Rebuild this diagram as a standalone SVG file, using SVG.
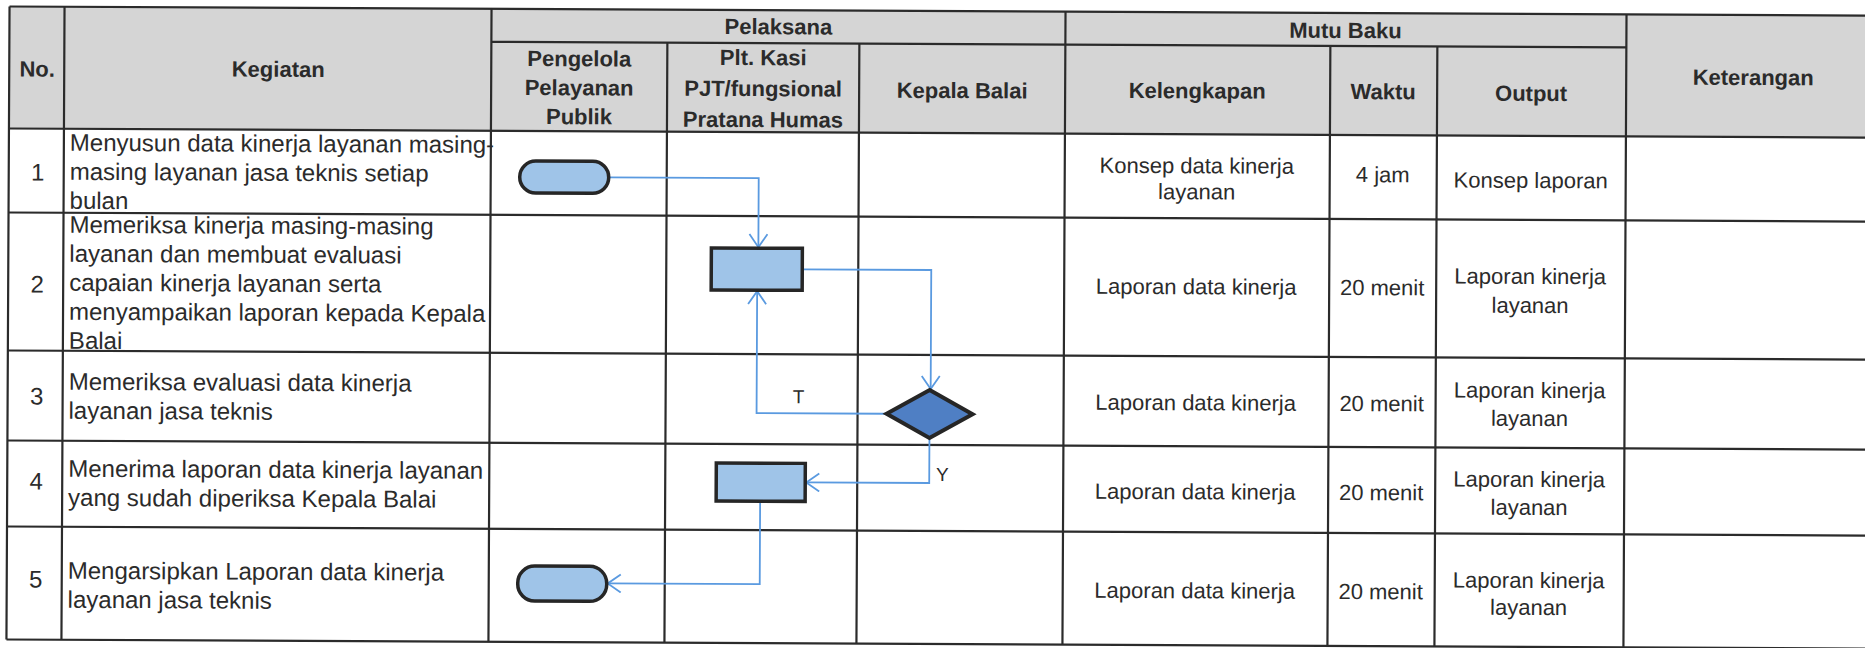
<svg xmlns="http://www.w3.org/2000/svg" width="1865" height="648" viewBox="0 0 1865 648">
<style>
.grid { stroke: #2b2b2b; stroke-width: 2.2; fill: none; }
.hdr { fill: #d5d5d5; }
.h { font-family: "Liberation Sans", Arial, sans-serif; font-weight: bold; font-size: 22px; fill: #2b2b2b; text-anchor: middle; }
.b { font-family: "Liberation Sans", Arial, sans-serif; font-size: 24px; fill: #2b2b2b; }
.n { font-family: "Liberation Sans", Arial, sans-serif; font-size: 24px; fill: #2b2b2b; text-anchor: middle; }
.m { font-family: "Liberation Sans", Arial, sans-serif; font-size: 22px; fill: #2b2b2b; text-anchor: middle; }
.lbl { font-family: "Liberation Sans", Arial, sans-serif; font-size: 19px; fill: #2b2b2b; text-anchor: middle; }
.shape { fill: #9fc4e8; stroke: #262626; stroke-width: 3.5; }
.dec { fill: #4f7fc4; stroke: #262626; stroke-width: 4; }
.conn { fill: none; stroke: #5a9ae0; stroke-width: 1.8; marker-end: url(#arr); }
</style>
<defs>
<marker id="arr" markerUnits="userSpaceOnUse" viewBox="0 0 15 20" refX="14" refY="10" markerWidth="15" markerHeight="20" orient="auto">
<path d="M1,1 L14,10 L1,19" fill="none" stroke="#5a9ae0" stroke-width="1.8"/>
</marker>
</defs>
<rect width="1865" height="648" fill="#ffffff"/>
<g transform="rotate(0.28 932 324)">
<g id="table">
<rect class="hdr" x="8" y="11" width="1880" height="122"/>
<path class="grid" d="M8,11 H1885 M490,44 H1625 M8,133 H1885 M8,217 H1885 M8,355 H1885 M8,445 H1885 M8,531 H1885 M8,644 H1885"/>
<path class="grid" d="M8,11 V644 M63,11 V644 M490,11 V644 M666,44 V644 M858,44 V644 M1064,11 V644 M1329,44 V644 M1436,44 V644 M1625,11 V644"/>
<text class="h" x="36" y="81">No.</text>
<text class="h" x="277" y="80">Kegiatan</text>
<text class="h" x="777" y="35">Pelaksana</text>
<text class="h" x="1344" y="36">Mutu Baku</text>
<text class="h" x="578" y="68">Pengelola</text>
<text class="h" x="578" y="97">Pelayanan</text>
<text class="h" x="578" y="126">Publik</text>
<text class="h" x="762" y="66">Plt. Kasi</text>
<text class="h" x="762" y="97">PJT/fungsional</text>
<text class="h" x="762" y="128">Pratana Humas</text>
<text class="h" x="961" y="98">Kepala Balai</text>
<text class="h" x="1196" y="97">Kelengkapan</text>
<text class="h" x="1382" y="97">Waktu</text>
<text class="h" x="1530" y="98">Output</text>
<text class="h" x="1752" y="81">Keterangan</text>

<text class="n" x="37" y="185">1</text>
<text class="b" x="69" y="155">Menyusun data kinerja layanan masing-</text>
<text class="b" x="69" y="184">masing layanan jasa teknis setiap</text>
<text class="b" x="69" y="213">bulan</text>

<text class="n" x="37" y="297">2</text>
<text class="b" x="69" y="237">Memeriksa kinerja masing-masing</text>
<text class="b" x="69" y="266">layanan dan membuat evaluasi</text>
<text class="b" x="69" y="295">capaian kinerja layanan serta</text>
<text class="b" x="69" y="324">menyampaikan laporan kepada Kepala</text>
<text class="b" x="69" y="353">Balai</text>

<text class="n" x="37" y="409">3</text>
<text class="b" x="69" y="394">Memeriksa evaluasi data kinerja</text>
<text class="b" x="69" y="423">layanan jasa teknis</text>

<text class="n" x="37" y="494">4</text>
<text class="b" x="69" y="481">Menerima laporan data kinerja layanan</text>
<text class="b" x="69" y="510">yang sudah diperiksa Kepala Balai</text>

<text class="n" x="37" y="592">5</text>
<text class="b" x="69" y="583">Mengarsipkan Laporan data kinerja</text>
<text class="b" x="69" y="612">layanan jasa teknis</text>

<text class="m" x="1196" y="172">Konsep data kinerja</text>
<text class="m" x="1196" y="198">layanan</text>
<text class="m" x="1382" y="180">4 jam</text>
<text class="m" x="1530" y="185">Konsep laporan</text>

<text class="m" x="1196" y="293">Laporan data kinerja</text>
<text class="m" x="1382" y="293">20 menit</text>
<text class="m" x="1530" y="281">Laporan kinerja</text>
<text class="m" x="1530" y="310">layanan</text>

<text class="m" x="1196" y="409">Laporan data kinerja</text>
<text class="m" x="1382" y="409">20 menit</text>
<text class="m" x="1530" y="395">Laporan kinerja</text>
<text class="m" x="1530" y="423">layanan</text>

<text class="m" x="1196" y="498">Laporan data kinerja</text>
<text class="m" x="1382" y="498">20 menit</text>
<text class="m" x="1530" y="484">Laporan kinerja</text>
<text class="m" x="1530" y="512">layanan</text>

<text class="m" x="1196" y="597">Laporan data kinerja</text>
<text class="m" x="1382" y="597">20 menit</text>
<text class="m" x="1530" y="585">Laporan kinerja</text>
<text class="m" x="1530" y="612">layanan</text>
</g>
<g id="connectors">
<path class="conn" d="M608,179 H758 V248"/>
<path class="conn" d="M802,270 H931 V389"/>
<path class="conn" d="M886,414 H757 V292"/>
<path class="conn" d="M930,438 V483 H807"/>
<path class="conn" d="M761,502 V585 H609"/>
<text class="lbl" x="799" y="404">T</text>
<text class="lbl" x="943" y="481">Y</text>
</g>
<g id="terminal1"><rect class="shape" x="519" y="163" width="89" height="32" rx="16"/></g>
<g id="process1"><rect class="shape" x="711" y="249" width="91" height="42"/></g>
<g id="decision"><path class="dec" d="M930,390 L973,414 L930,438 L887,414 Z"/></g>
<g id="process2"><rect class="shape" x="717" y="464" width="89" height="38"/></g>
<g id="terminal2"><rect class="shape" x="519" y="568" width="89" height="35" rx="17"/></g>
</g>
</svg>
